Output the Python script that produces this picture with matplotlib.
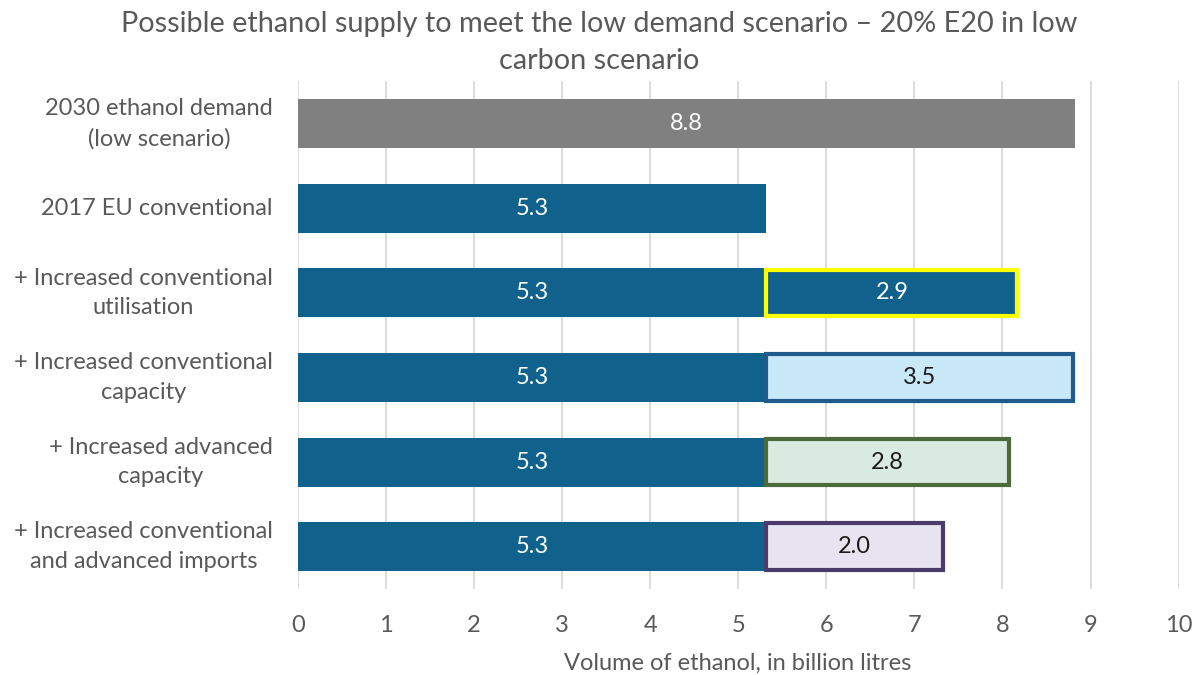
import numpy as np
import matplotlib.pyplot as plt

plt.rcParams['font.family'] = ['Lato', 'DejaVu Sans']

# Chart data
categories = ['2030 ethanol demand\n(low scenario)',
              '2017 EU conventional',
              '+ Increased conventional\nutilisation',
              '+ Increased conventional\ncapacity',
              '+ Increased advanced\ncapacity',
              '+ Increased conventional\nand advanced imports']
demand = [8.82, 0, 0, 0, 0, 0]
base = [0, 5.32, 5.32, 5.32, 5.32, 5.32]
extra = [0, 0, 2.85, 3.48, 2.75, 2.0]
xticks = [0, 1, 2, 3, 4, 5, 6, 7, 8, 9, 10]

extra_fill = [None, None, '#10628C', '#C9E8F8', '#D9EAE0', '#E8E3F0']
extra_edge = [None, None, '#FFFF00', '#1F5C8C', '#4C6B3C', '#4B3B6B']
extra_text = [None, None, 'white', '#1a1a1a', '#1a1a1a', '#1a1a1a']

fig = plt.figure(figsize=(11.99, 6.75), dpi=100)
ax = fig.add_axes([0.2483, 0.1274, 0.7347, 0.7519])

y = np.arange(len(categories))
h = 0.58
fs = 17

ax.barh(y[0], demand[0], height=h, color='#808080', zorder=3)
ax.text(demand[0] / 2, y[0], f'{demand[0]:.1f}', ha='center', va='center',
        color='white', fontsize=fs, zorder=4)

for i in range(1, len(categories)):
    ax.barh(y[i], base[i], height=h, color='#10628C', zorder=3)
    ax.text(base[i] / 2, y[i], f'{base[i]:.1f}', ha='center', va='center',
            color='white', fontsize=fs, zorder=4)
    if extra[i] > 0:
        ax.barh(y[i], extra[i], left=base[i], height=h - 0.03,
                color=extra_fill[i], edgecolor=extra_edge[i], linewidth=3, zorder=3)
        ax.text(base[i] + extra[i] / 2, y[i], f'{extra[i]:.1f}', ha='center',
                va='center', color=extra_text[i], fontsize=fs, zorder=4)

ax.set_xlim(0, 10)
ax.set_ylim(len(categories) - 0.5, -0.5)
ax.set_xticks(xticks)
ax.set_yticks(y)
ax.set_yticklabels(categories, fontsize=fs, color='#595959', ha='right', va='center',
                   multialignment='center', linespacing=1.5)
ax.tick_params(axis='y', length=0, pad=18)
ax.tick_params(axis='x', length=0, labelsize=fs, labelcolor='#595959', pad=19)
ax.grid(axis='x', color='#D9D9D9', linewidth=1.3, zorder=0)
for s in ax.spines.values():
    s.set_visible(False)

ax.set_xlabel('Volume of ethanol, in billion litres', fontsize=fs, color='#595959', labelpad=12)
fig.suptitle('Possible ethanol supply to meet the low demand scenario – 20% E20 in low\ncarbon scenario',
             fontsize=20.8, color='#595959', x=0.5, y=0.984, linespacing=1.55)

fig.savefig('out.png', dpi=100)
